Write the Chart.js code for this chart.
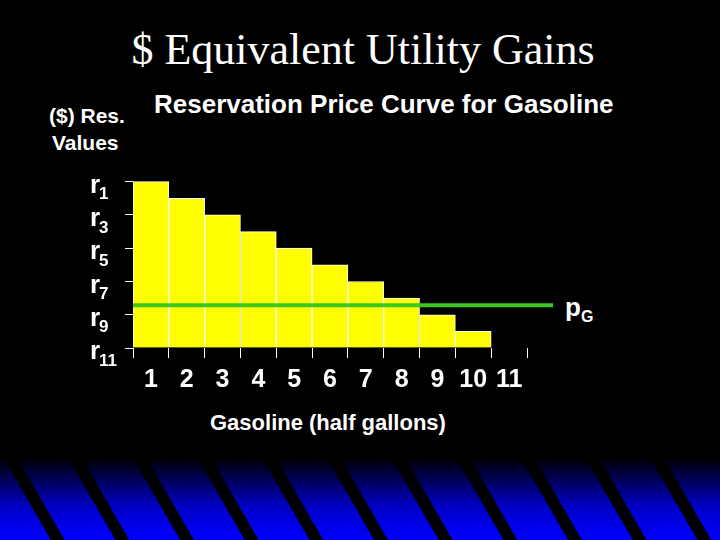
<!DOCTYPE html>
<html><head><meta charset="utf-8">
<script src="https://cdn.jsdelivr.net/npm/chart.js@4"></script>
<style>
html,body{margin:0;padding:0;background:#000;width:720px;height:540px;overflow:hidden;font-family:"Liberation Sans",Arial,sans-serif;color:#fff}
.t{position:absolute;white-space:nowrap}
#stripe{position:absolute;left:0;top:458px;width:720px;height:82px;
background:repeating-linear-gradient(60deg,transparent 0 44px,#000 44px 56px),linear-gradient(#000 0%,#0000c8 60%,#0000ff 100%);}
#c{position:absolute;left:0;top:0}
</style></head><body>
<div id="stripe"></div>
<div class="t" style="left:0;width:726px;text-align:center;top:24px;font-family:'Liberation Serif',serif;font-size:44px">$ Equivalent Utility Gains</div>
<div class="t" style="left:154px;top:89px;font-weight:bold;font-size:26px">Reservation Price Curve for Gasoline</div>
<div class="t" style="left:49px;top:104px;font-weight:bold;font-size:21px">($) Res.</div>
<div class="t" style="left:52px;top:131px;font-weight:bold;font-size:21px">Values</div>
<div class="t" style="left:210px;top:410px;font-weight:bold;font-size:22px">Gasoline (half gallons)</div>
<div class="t" style="left:565px;top:292px;font-weight:bold;font-size:26px">p<sub style="font-size:16px">G</sub></div>
<canvas id="c" width="720" height="540"></canvas>
<script>
const categories=['1','2','3','4','5','6','7','8','9','10','11'];
const values=[10,9,8,7,6,5,4,3,2,1,null];
const yTickValues=[10,8,6,4,2,0];
const yTickSubs=['1','3','5','7','9','11'];
const priceG=2.57;
const pLine={id:'pLine',afterDatasetsDraw(ch){const c=ch.ctx,y=ch.scales.y.getPixelForValue(priceG);
c.save();c.strokeStyle='#3ec81e';c.lineWidth=4;c.beginPath();c.moveTo(ch.chartArea.left,y);c.lineTo(ch.chartArea.right+26,y);c.stroke();c.restore();}};
const yLabels={id:'yLabels',afterDraw(ch){const c=ch.ctx,s=ch.scales.y;c.save();c.fillStyle='#fff';c.textBaseline='middle';
yTickValues.forEach((v,i)=>{const y=s.getPixelForValue(v)+4;c.font='bold 26px "Liberation Sans"';c.fillText('r',90,y);
c.font='bold 17px "Liberation Sans"';c.fillText(yTickSubs[i],99,y+9);});c.restore();}};
new Chart(document.getElementById('c'),{type:'bar',
data:{labels:categories,datasets:[{data:values,backgroundColor:'#ffff00',borderColor:'#ffffff',borderWidth:1,borderSkipped:'bottom',barPercentage:1,categoryPercentage:1}]},
options:{responsive:false,animation:false,events:[],
layout:{padding:{left:0,top:175,right:193,bottom:152}},
plugins:{legend:{display:false},tooltip:{enabled:false}},
scales:{
x:{grid:{drawOnChartArea:false,color:'#fff',tickLength:10,offset:true},border:{display:false},
ticks:{color:'#fff',font:{size:25,weight:'bold',family:'Liberation Sans'},padding:7},afterFit(s){s.height=40;}},
y:{min:0,max:10.4,grid:{drawOnChartArea:false,color:'#fff',tickLength:8},border:{display:false},
afterBuildTicks(s){s.ticks=yTickValues.map(v=>({value:v}));},
ticks:{color:'#fff',callback:()=>''},
afterFit(s){s.width=133;}}}},
plugins:[pLine,yLabels]});
</script></body></html>
